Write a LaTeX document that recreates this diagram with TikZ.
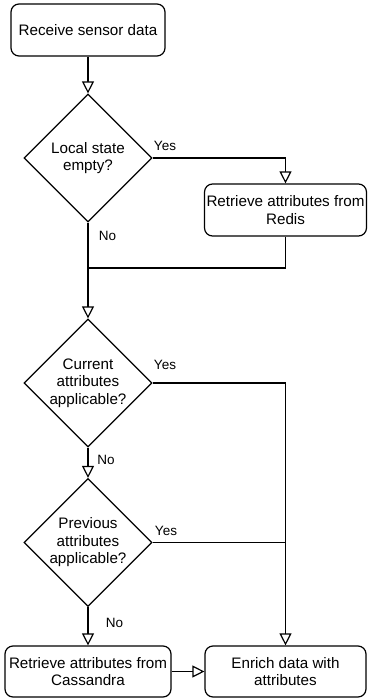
\documentclass[tikz,border=0pt]{standalone}
\usepackage{fontspec}
\setmainfont{Liberation Sans}
\usetikzlibrary{shapes.geometric,arrows.meta}
\begin{document}
\begin{tikzpicture}[x=1pt,y=-1pt,
  line width=1.2pt,
  proc/.style={draw, rounded corners=8pt, fill=white, align=center, inner sep=2pt,
    font=\fontsize{15.2}{17.5}\selectfont},
  dec/.style={draw, diamond, aspect=1, inner sep=0pt, minimum width=128pt, minimum height=128pt,
    align=center, font=\fontsize{15.2}{17.5}\selectfont},
  lbl/.style={font=\fontsize{13.5}{16}\selectfont, inner sep=0pt},
  arr/.style={-{Triangle[open, length=12pt, width=12pt, fill=white]}}]
\useasboundingbox (0,0) rectangle (367,700);

\node[proc, minimum width=154pt, minimum height=52pt] (recv) at (88,30) {Receive sensor data};
\node[dec] (d1) at (88,158) {Local state\\empty?};
\node[proc, minimum width=161pt, minimum height=52pt] (redis) at (285.5,210) {Retrieve attributes from\\Redis};
\coordinate (j) at (88,268);
\node[dec] (d2) at (88,383) {Current\\attributes\\applicable?};
\node[dec] (d3) at (88,542.5) {Previous\\attributes\\applicable?};
\node[proc, minimum width=166pt, minimum height=51pt] (cass) at (88,671.5) {Retrieve attributes from\\Cassandra};
\node[proc, minimum width=161pt, minimum height=51pt] (enrich) at (285.5,671.5) {Enrich data with\\attributes};

\draw[arr] (recv.south) -- (d1.north);
\draw[arr] (d1.east) -| (redis.north);
\draw (redis.south) |- (j);
\draw[arr] (d1.south) -- (d2.north);
\draw[arr] (d2.east) -| (enrich.north);
\draw[arr] (d2.south) -- (d3.north);
\draw (d3.east) -- (d3.east -| enrich.north);
\draw[arr] (d3.south) -- (cass.north);
\draw[arr] (cass.east) -- (enrich.west);

\node[lbl] (y1) at (165,146) {Yes};
\node[lbl] (n1) at (107.5,236) {No};
\node[lbl] (y2) at (165,365) {Yes};
\node[lbl] (n2) at (106,460) {No};
\node[lbl] (y3) at (166,531) {Yes};
\node[lbl] (n3) at (114.5,623) {No};
\end{tikzpicture}
\end{document}
